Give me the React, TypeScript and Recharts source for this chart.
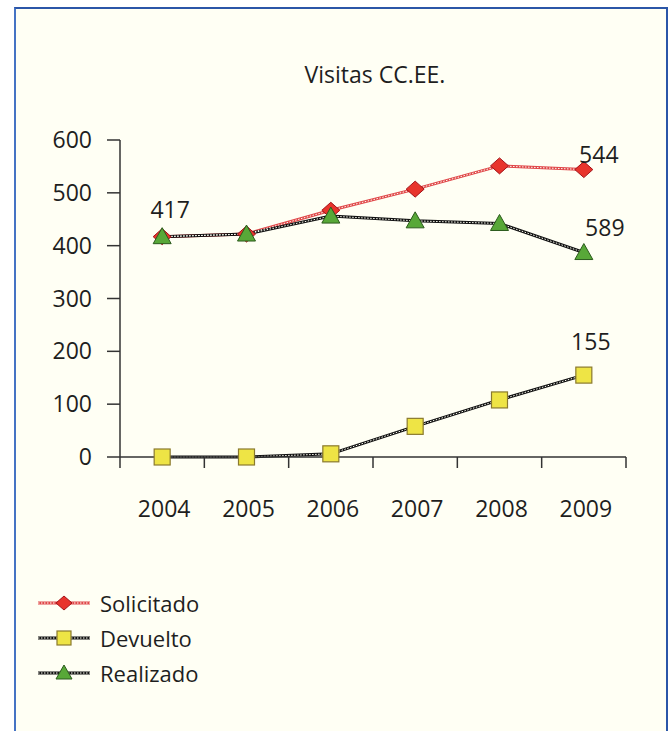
import React from "react";
import { LineChart, Line, XAxis, YAxis, LabelList } from "recharts";

const years = ["2004", "2005", "2006", "2007", "2008", "2009"];
const solicitado = [417, 422, 467, 507, 551, 544];
const devuelto = [0, 0, 6, 58, 108, 155];
const realizado = [417, 422, 456, 447, 442, 387];
const solicitadoLabels = ["", "", "", "", "", "544"];
const devueltoLabels = ["", "", "", "", "", "155"];
const realizadoLabels = ["417", "", "", "", "", "589"];
const yTicks = [0, 100, 200, 300, 400, 500, 600];

const data = years.map((year, i) => ({
  year,
  solicitado: solicitado[i],
  devuelto: devuelto[i],
  realizado: realizado[i],
  solicitadoLabel: solicitadoLabels[i],
  devueltoLabel: devueltoLabels[i],
  realizadoLabel: realizadoLabels[i],
}));

const FONT = "'Open Sans', 'Noto Sans', sans-serif";
const FS = 23;
const TEXT = "#1e1e1e";
const AXIS = "#333";
const BG = "#fffff4";
const W = 670;
const H = 731;
const MARGIN = { top: 140, right: 44, bottom: 214, left: 60 };
const BAND = (W - MARGIN.left - 60 - MARGIN.right) / years.length;

const Diamond = ({ cx, cy, size = 8 }) => (
  <path
    d={`M${cx},${cy - size} L${cx + size + 1},${cy} L${cx},${cy + size} L${cx - size - 1},${cy} Z`}
    fill="#e8342c"
    stroke="#a3141a"
    strokeWidth={1}
  />
);
const Square = ({ cx, cy, size = 8 }) => (
  <rect
    x={cx - size}
    y={cy - size}
    width={size * 2}
    height={size * 2}
    fill="#eee445"
    stroke="#8a7a2e"
    strokeWidth={1.2}
  />
);
const Triangle = ({ cx, cy, size = 8 }) => (
  <path
    d={`M${cx},${cy - size - 1} L${cx + size + 1},${cy + size - 1} L${cx - size - 1},${cy + size - 1} Z`}
    fill="#58a838"
    stroke="#2b5a1c"
    strokeWidth={1}
  />
);

const makeDot = (Shape) => (p) =>
  p.cx == null ? <g key={p.index} /> : <g key={p.index}><Shape cx={p.cx} cy={p.cy} /></g>;

const makeLabel = (dx, dy) => (p) => {
  if (!p.value) return null;
  return (
    <text x={p.x + dx} y={p.y + dy} textAnchor="middle" fontSize={FS} fontFamily={FONT} fill={TEXT}>
      {p.value}
    </text>
  );
};

const XTick = ({ x, y, payload, index }) => (
  <g>
    <line x1={x - BAND / 2} y1={y} x2={x - BAND / 2} y2={y + 11} stroke={AXIS} strokeWidth={1.5} />
    {index === years.length - 1 && (
      <line x1={x + BAND / 2} y1={y} x2={x + BAND / 2} y2={y + 11} stroke={AXIS} strokeWidth={1.5} />
    )}
    <text x={x + 2} y={y + 60} textAnchor="middle" fontSize={FS} fontFamily={FONT} fill={TEXT}>
      {payload.value}
    </text>
  </g>
);

const realizadoFirst = makeLabel(8, -19);
const realizadoLast = makeLabel(21, -17);
const RealizadoLabel = (p) => (p.index === 0 ? realizadoFirst(p) : realizadoLast(p));

const series = [
  { key: "solicitado", name: "Solicitado", color: "#e0484a", Shape: Diamond, label: makeLabel(15, -7) },
  { key: "devuelto", name: "Devuelto", color: "#111", Shape: Square, label: makeLabel(7, -25) },
  { key: "realizado", name: "Realizado", color: "#111", Shape: Triangle, label: RealizadoLabel },
];

const ChainIcon = ({ color, Shape }) => (
  <svg width={56} height={20}>
    <line x1={2} y1={10} x2={54} y2={10} stroke={color} strokeWidth={3} />
    <line x1={2} y1={10} x2={54} y2={10} stroke={BG} strokeWidth={1} strokeDasharray="1.5 1.5" />
    <Shape cx={28} cy={10} size={7} />
  </svg>
);

export default function App() {
  return (
    <div style={{ position: "absolute", left: 0, top: 0, width: W, height: H, overflow: "hidden", background: "#fff" }}>
      <div
        style={{
          position: "absolute",
          left: 14,
          top: 7,
          width: 650,
          height: 760,
          background: BG,
          borderLeft: "2px solid #4573c4",
          borderTop: "2px solid #2b56a8",
          borderRight: "2px solid #2b56a8",
        }}
      />
      <div
        style={{
          position: "absolute",
          left: 0,
          top: 58,
          width: W,
          textAlign: "center",
          paddingLeft: 80,
          boxSizing: "border-box",
          fontFamily: FONT,
          fontSize: FS,
          color: TEXT,
        }}
      >
        Visitas CC.EE.
      </div>
      <div style={{ position: "absolute", left: 0, top: 0 }}>
        <LineChart width={W} height={H} data={data} margin={MARGIN}>
          <XAxis
            dataKey="year"
            scale="band"
            tickLine={false}
            tickSize={0}
            tickMargin={0}
            axisLine={{ stroke: AXIS, strokeWidth: 1.5 }}
            tick={<XTick />}
            height={60}
            interval={0}
          />
          <XAxis xAxisId="top" dataKey="year" scale="band" orientation="top" height={0} tick={false} tickLine={false} axisLine={{ stroke: AXIS, strokeWidth: 1.5 }} />
          <YAxis
            domain={[0, 600]}
            ticks={yTicks}
            width={60}
            tickSize={13}
            tickMargin={15}
            axisLine={{ stroke: AXIS, strokeWidth: 1.5 }}
            tickLine={{ stroke: AXIS, strokeWidth: 1.5 }}
            tick={{ fontSize: FS, fill: TEXT, fontFamily: FONT }}
          />
          <YAxis yAxisId="r" orientation="right" domain={[0, 600]} width={0} tick={false} tickLine={false} axisLine={{ stroke: AXIS, strokeWidth: 1.5 }} />
          {series.map((s) => (
            <Line
              key={s.key + "-base"}
              dataKey={s.key}
              stroke={s.color}
              strokeWidth={3}
              dot={false}
              activeDot={false}
              legendType="none"
              isAnimationActive={false}
            />
          ))}
          {series.map((s) => (
            <Line
              key={s.key + "-chain"}
              dataKey={s.key}
              name={s.name}
              stroke={BG}
              strokeWidth={1}
              strokeDasharray="1.5 1.5"
              dot={makeDot(s.Shape)}
              activeDot={false}
              isAnimationActive={false}
            >
              <LabelList dataKey={s.key + "Label"} content={s.label} />
            </Line>
          ))}
        </LineChart>
      </div>
      <div style={{ position: "absolute", left: 36, top: 585, fontFamily: FONT, fontSize: 22, color: TEXT }}>
        {series.map((s) => (
          <div key={s.key} style={{ display: "flex", alignItems: "center", height: 35 }}>
            <ChainIcon color={s.color} Shape={s.Shape} />
            <span style={{ marginLeft: 8 }}>{s.name}</span>
          </div>
        ))}
      </div>
    </div>
  );
}
